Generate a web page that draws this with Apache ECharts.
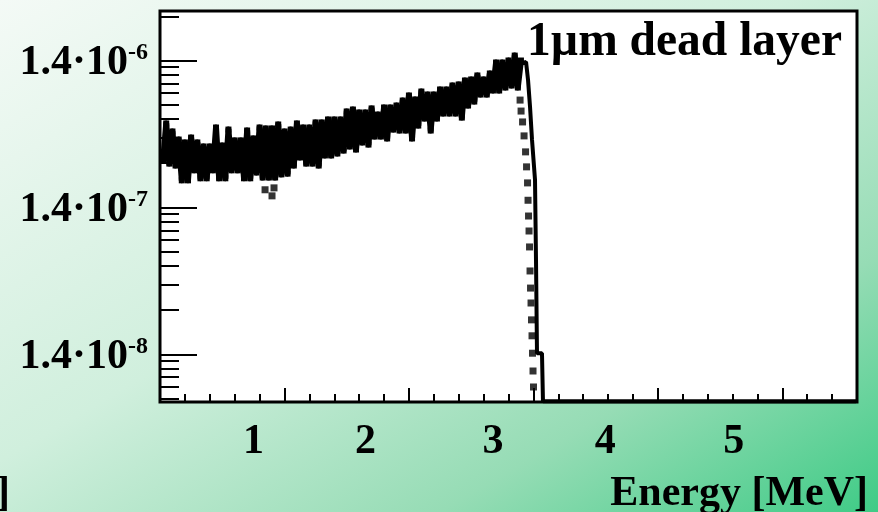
<!DOCTYPE html>
<html>
<head>
<meta charset="utf-8">
<script src="https://cdn.jsdelivr.net/npm/echarts@6/dist/echarts.min.js"></script>
<style>
html,body{margin:0;padding:0;}
#c{width:878px;height:512px;background:linear-gradient(to bottom right,#f4faf6 0%,#d0efdd 45%,#96dcb5 75%,#3fcb86 100%);}
</style>
</head>
<body>
<div id="c"></div>
<script>
// ---- data (energy in MeV, counts per bin) ----
const bandEnergy = [
0.025,0.05,0.075,0.1,0.125,0.15,0.175,0.2,0.225,0.25,
0.275,0.3,0.325,0.35,0.375,0.4,0.425,0.45,0.475,0.5,
0.525,0.55,0.575,0.6,0.625,0.65,0.675,0.7,0.725,0.75,
0.775,0.8,0.825,0.85,0.875,0.9,0.925,0.95,0.975,1.0,
1.025,1.05,1.075,1.1,1.125,1.15,1.175,1.2,1.225,1.25,
1.275,1.3,1.325,1.35,1.375,1.4,1.425,1.45,1.475,1.5,
1.525,1.55,1.575,1.6,1.625,1.65,1.675,1.7,1.725,1.75,
1.775,1.8,1.825,1.85,1.875,1.9,1.925,1.95,1.975,2.0,
2.025,2.05,2.075,2.1,2.125,2.15,2.175,2.2,2.225,2.25,
2.275,2.3,2.325,2.35,2.375,2.4,2.425,2.45,2.475,2.5,
2.525,2.55,2.575,2.6,2.625,2.65,2.675,2.7,2.725,2.75,
2.775,2.8,2.825,2.85,2.875,2.9];
const bandCounts = [
2.09e-7,3.73e-7,1.99e-7,3.29e-7,1.93e-7,2.90e-7,1.53e-7,2.77e-7,1.53e-7,2.99e-7,
1.79e-7,2.77e-7,1.58e-7,2.60e-7,1.58e-7,2.60e-7,1.79e-7,3.50e-7,1.58e-7,2.64e-7,
1.58e-7,3.39e-7,1.79e-7,2.86e-7,1.79e-7,2.86e-7,1.58e-7,3.34e-7,1.58e-7,2.95e-7,
1.73e-7,3.50e-7,1.60e-7,3.45e-7,1.60e-7,3.45e-7,1.60e-7,3.67e-7,1.68e-7,3.29e-7,
1.70e-7,3.39e-7,1.93e-7,3.73e-7,2.19e-7,3.50e-7,1.99e-7,3.50e-7,1.99e-7,3.79e-7,
1.93e-7,3.79e-7,2.26e-7,3.97e-7,2.26e-7,3.97e-7,2.33e-7,3.97e-7,2.44e-7,4.50e-7,
2.60e-7,4.64e-7,2.48e-7,4.43e-7,2.77e-7,4.43e-7,2.68e-7,4.72e-7,3.04e-7,4.29e-7,
3.04e-7,4.79e-7,2.95e-7,4.79e-7,3.39e-7,4.94e-7,3.34e-7,5.34e-7,3.34e-7,5.78e-7,
2.95e-7,5.43e-7,3.61e-7,6.15e-7,4.03e-7,5.87e-7,3.34e-7,5.87e-7,4.03e-7,6.35e-7,
4.36e-7,6.35e-7,4.36e-7,6.76e-7,4.36e-7,6.87e-7,4.09e-7,7.31e-7,4.94e-7,7.43e-7,
5.26e-7,7.91e-7,5.87e-7,7.43e-7,5.87e-7,8.16e-7,6.25e-7,9.69e-7,6.25e-7,9.69e-7,
6.55e-7,1.00e-6,6.76e-7,1.08e-6,6.55e-7,1.00e-6];

const markerEnergy = [0.844,0.900,0.916,
2.893,2.901,2.913,2.925,2.937,2.945,2.953,2.957,2.961,2.965,2.969,2.973,2.977,2.981,2.985,2.989,2.993,2.997,3.001];
const markerCounts = [1.32e-7,1.20e-7,1.36e-7,
5.38e-7,4.53e-7,3.82e-7,3.07e-7,2.39e-7,1.89e-7,1.47e-7,1.12e-7,8.75e-8,6.92e-8,5.39e-8,3.70e-8,2.83e-8,2.24e-8,1.72e-8,1.34e-8,1.02e-8,7.72e-9,6.01e-9];

const lineEnergy = [2.852,2.893,2.941,2.957,2.973,2.989,3.013,3.021,3.029,3.069,3.077,5.592];
const lineCounts = [8.09e-7,9.47e-7,9.77e-7,7.37e-7,4.83e-7,2.88e-7,1.54e-7,4.39e-8,1.02e-8,1.02e-8,4.8e-9,4.8e-9];

// ---- axes / labels ----
const xTickValues = [1,2,3,4,5];
const xTickLabels = ['1','2','3','4','5'];
const xMinorTickValues = [0.2,0.4,0.6,0.8,1.2,1.4,1.6,1.8,2.2,2.4,2.6,2.8,3.2,3.4,3.6,3.8,4.2,4.4,4.6,4.8,5.2,5.4];
const yTickValues = [1e-8,1e-7,1e-6];
const yTickMantissa = '1.4\u00b710';
const yTickExponents = ['-8','-7','-6'];
const yMinorTickValues = [5e-9,6e-9,7e-9,8e-9,9e-9,2e-8,3e-8,4e-8,5e-8,6e-8,7e-8,8e-8,9e-8,
  2e-7,3e-7,4e-7,5e-7,6e-7,7e-7,8e-7,9e-7,2e-6];
const xAxisTitle = 'Energy [MeV]';
const plotTitle = '1\u00b5m dead layer';

const SERIF = "'Liberation Serif','DejaVu Serif',serif";
const X_MIN = 0, X_MAX = 5.6, Y_MIN = 4.75e-9, Y_MAX = 2.172e-6;
const labelShift = [62, 87, 81, 105, 97];

const xRich = {};
xTickLabels.forEach((t, i) => {
  xRich['p' + i] = {fontFamily: SERIF, fontWeight: 'bold', fontSize: 42, color: '#000', padding: [0, labelShift[i], 0, 0]};
});

const chart = echarts.init(document.getElementById('c'), null, {renderer: 'canvas'});
chart.setOption({
  animation: false,
  backgroundColor: 'transparent',
  title: [
    {text: plotTitle, right: 36, top: 19, padding: 0,
     textStyle: {fontFamily: SERIF, fontWeight: 'bold', fontSize: 47.5, color: '#000'}},
    {text: xAxisTitle, right: 10, top: 473, padding: 0,
     textStyle: {fontFamily: SERIF, fontWeight: 'bold', fontSize: 42, color: '#000'}},
    {text: ']', left: -4, top: 473, padding: 0,
     textStyle: {fontFamily: SERIF, fontWeight: 'bold', fontSize: 42, color: '#000'}}
  ],
  grid: {left: 160, right: 21, top: 11, bottom: 110, show: true,
         backgroundColor: '#ffffff', borderColor: '#000', borderWidth: 3, containLabel: false},
  xAxis: [
    {type: 'value', min: X_MIN, max: X_MAX, position: 'bottom',
     axisLine: {show: false}, splitLine: {show: false},
     axisTick: {show: true, inside: true, length: 14, customValues: xTickValues,
                lineStyle: {color: '#000', width: 2}},
     axisLabel: {show: true, customValues: xTickValues, margin: 19,
                 formatter: v => { const i = xTickValues.indexOf(Math.round(v)); return i < 0 ? '' : '{p' + i + '|' + xTickLabels[i] + '}'; },
                 rich: xRich}},
    {type: 'value', min: X_MIN, max: X_MAX, position: 'bottom',
     axisLine: {show: false}, splitLine: {show: false}, axisLabel: {show: false},
     axisTick: {show: true, inside: true, length: 8, customValues: xMinorTickValues,
                lineStyle: {color: '#000', width: 2}}}
  ],
  yAxis: [
    {type: 'log', logBase: 10, min: Y_MIN, max: Y_MAX, position: 'left',
     axisLine: {show: false}, splitLine: {show: false},
     axisTick: {show: true, inside: true, length: 37, customValues: yTickValues,
                lineStyle: {color: '#000', width: 2}},
     axisLabel: {show: true, customValues: yTickValues, margin: 12,
                 formatter: v => {
                   let best = 0, d = 1e9;
                   yTickValues.forEach((t, i) => { const dd = Math.abs(Math.log10(t) - Math.log10(v)); if (dd < d) { d = dd; best = i; } });
                   return '{m|' + yTickMantissa + '}{s|' + yTickExponents[best] + '}';
                 },
                 rich: {
                   m: {fontFamily: SERIF, fontWeight: 'bold', fontSize: 42, color: '#000', padding: [6, 0, 0, 0]},
                   s: {fontFamily: SERIF, fontWeight: 'bold', fontSize: 24, color: '#000', verticalAlign: 'top', padding: [4, 0, 0, 0]}
                 }}},
    {type: 'log', logBase: 10, min: Y_MIN, max: Y_MAX, position: 'left',
     axisLine: {show: false}, splitLine: {show: false}, axisLabel: {show: false},
     axisTick: {show: true, inside: true, length: 19, customValues: yMinorTickValues,
                lineStyle: {color: '#000', width: 2}}}
  ],
  series: [
    {type: 'line', name: 'spectrum', xAxisIndex: 0, yAxisIndex: 0,
     data: bandEnergy.map((e, i) => [e, bandCounts[i]]),
     symbol: 'rect', symbolSize: [6, 6], showSymbol: true, showAllSymbol: true,
     itemStyle: {color: '#000', borderWidth: 0},
     lineStyle: {color: '#000', width: 6, join: 'round'},
     emphasis: {disabled: true}, silent: true, clip: true},
    {type: 'scatter', name: 'markers', xAxisIndex: 0, yAxisIndex: 0,
     data: markerEnergy.map((e, i) => [e, markerCounts[i]]),
     symbol: 'rect', symbolSize: [7, 7],
     itemStyle: {color: '#000', borderWidth: 0},
     emphasis: {disabled: true}, silent: true, clip: true},
    {type: 'line', name: 'line', xAxisIndex: 0, yAxisIndex: 0,
     data: lineEnergy.map((e, i) => [e, lineCounts[i]]),
     symbol: 'none', showSymbol: false,
     lineStyle: {color: '#000', width: 4},
     emphasis: {disabled: true}, silent: true, clip: true}
  ]
});
</script>
</body>
</html>
